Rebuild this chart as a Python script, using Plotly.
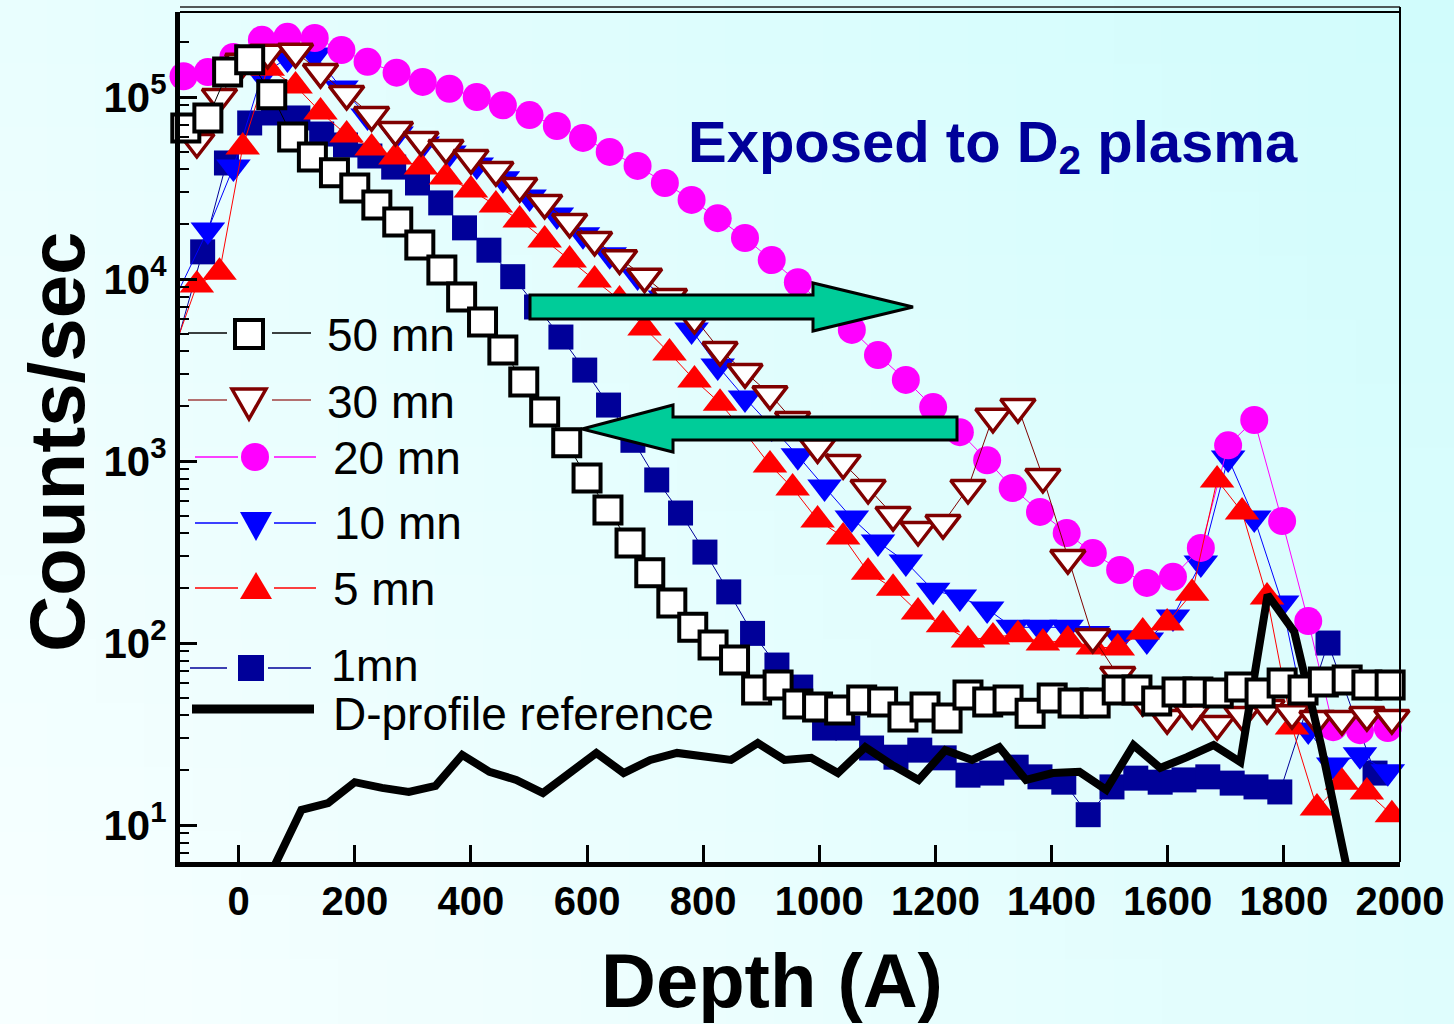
import plotly.graph_objects as go

# ---------------- data (depth in Angstrom, counts/sec) ----------------
depth_50 = [-91, -53, -19, 19, 57, 93, 127, 165, 200, 238, 274, 312, 350, 384, 420, 455, 491,
            527, 565, 600, 636, 674, 708, 746, 782, 817, 854, 892, 929, 963, 997, 1035, 1073,
            1109, 1144, 1182, 1220, 1256, 1290, 1325, 1363, 1401, 1437, 1475, 1513, 1547, 1581,
            1616, 1652, 1687, 1724, 1759, 1797, 1833, 1868, 1909, 1943, 1983]
counts_50 = [6.76e4, 7.67e4, 1.37e5, 1.60e5, 1.03e5, 6.03e4, 4.68e4, 3.83e4, 3.16e4, 2.55e4,
             2.06e4, 1.54e4, 1.12e4, 7.96e3, 5.81e3, 4.07e3, 2.72e3, 1.86e3, 1.26e3, 807, 538,
             355, 243, 166, 122, 97.5, 80.7, 55.2, 58.8, 46.2, 44.5, 42.8, 48.6, 47.4, 39.2,
             44.5, 38.7, 51.8, 47.4, 48.6, 41.2, 49.9, 46.8, 46.8, 55.2, 55.2, 48.0, 53.8, 53.8,
             53.1, 57.3, 53.1, 60.3, 55.2, 61.1, 62.7, 58.8, 58.8]

depth_30 = [-72, -33, 7, 50, 98, 141, 186, 229, 270, 314, 357, 400, 443, 484, 527, 570, 613,
            656, 699, 742, 785, 829, 872, 915, 954, 997, 1041, 1084, 1127, 1170, 1213, 1256,
            1299, 1342, 1385, 1428, 1471, 1514, 1557, 1599, 1642, 1685, 1728, 1771, 1814, 1857,
            1900, 1943, 1986]
counts_30 = [5.66e4, 1.0e5, 1.56e5, 1.75e5, 1.77e5, 1.37e5, 1.04e5, 7.96e4, 6.59e4, 5.81e4,
             5.25e4, 4.62e4, 3.97e4, 3.24e4, 2.62e4, 2.06e4, 1.64e4, 1.30e4, 1.03e4, 7.96e3,
             6.11e3, 4.07e3, 3.08e3, 2.33e3, 1.68e3, 1.19e3, 975, 711, 505, 418, 456, 711,
             1750, 1980, 817, 293, 108, 66.7, 48.6, 38.7, 41.2, 35.9, 40.2, 43.9, 41.2, 38.2,
             38.2, 40.2, 38.7]

depth_20 = [-95, -53, -9, 40, 84, 131, 177, 222, 272, 317, 363, 410, 455, 501, 548, 593, 639,
            687, 734, 780, 825, 872, 918, 963, 1009, 1056, 1101, 1149, 1196, 1242, 1289, 1333,
            1380, 1426, 1471, 1518, 1564, 1609, 1657, 1704, 1749, 1797, 1842, 1885, 1931, 1979]
counts_20 = [1.30e5, 1.37e5, 1.66e5, 2.06e5, 2.14e5, 2.11e5, 1.81e5, 1.56e5, 1.36e5, 1.21e5,
             1.11e5, 1.0e5, 9.0e4, 7.96e4, 6.93e4, 5.96e4, 4.99e4, 4.18e4, 3.37e4, 2.72e4,
             2.16e4, 1.68e4, 1.27e4, 9.6e3, 7.1e3, 5.25e3, 3.82e3, 2.79e3, 1.98e3, 1.44e3,
             1.01e3, 711, 525, 402, 312, 252, 214, 231, 333, 1220, 1680, 468, 132, 34.5, 33.2,
             34.1]

depth_10 = [-105, -53, -9, 40, 84, 131, 177, 222, 272, 317, 363, 410, 455, 501, 548, 593, 639,
            687, 734, 780, 825, 872, 918, 963, 1009, 1056, 1101, 1149, 1196, 1242, 1289, 1333,
            1380, 1426, 1471, 1518, 1564, 1609, 1657, 1704, 1749, 1797, 1842, 1885, 1931, 1979]
counts_10 = [8.4e3, 1.86e4, 4.12e4, 1.32e5, 1.64e5, 1.70e5, 1.12e5, 7.86e4, 6.26e4, 5.52e4,
             4.92e4, 4.23e4, 3.55e4, 2.82e4, 2.25e4, 1.75e4, 1.36e4, 1.04e4, 7.86e3, 5.25e3,
             3.33e3, 2.22e3, 1.54e3, 1.07e3, 720, 486, 359, 279, 195, 179, 154, 122, 122, 122,
             113, 107, 104, 139, 275, 1040, 486, 166, 33.3, 21.4, 24.3, 19.6]

depth_5 = [-150, -72, -33, 7, 50, 98, 141, 186, 229, 270, 314, 357, 400, 443, 484, 527, 570,
           613, 656, 699, 742, 785, 829, 872, 915, 954, 997, 1041, 1084, 1127, 1170, 1213, 1256,
           1299, 1342, 1385, 1428, 1471, 1514, 1557, 1599, 1642, 1685, 1728, 1771, 1814, 1857,
           1900, 1943, 1986]
counts_5 = [1.86e3, 9.27e3, 1.09e4, 5.31e4, 1.44e5, 1.15e5, 8.27e4, 6.18e4, 5.25e4, 4.68e4,
            4.12e4, 3.64e4, 3.08e4, 2.55e4, 2.11e4, 1.64e4, 1.27e4, 9.88e3, 7.67e3, 5.38e3,
            3.92e3, 2.79e3, 2.08e3, 1.43e3, 951, 711, 474, 383, 245, 200, 148, 126, 104, 108,
            111, 100, 104, 95, 94, 115, 129, 188, 787, 525, 179, 34.6, 12.4, 17.2, 15.2, 11.4]

depth_1 = [-153, -62, -21, 19, 60, 102, 143, 184, 226, 267, 308, 348, 389, 431, 472, 513, 555,
           596, 637, 679, 720, 761, 803, 844, 885, 927, 968, 1009, 1049, 1090, 1132, 1173, 1215,
           1256, 1297, 1339, 1380, 1421, 1463, 1504, 1545, 1587, 1628, 1669, 1711, 1752, 1793,
           1876, 1957]
counts_1 = [1.32e3, 1.41e4, 4.34e4, 7.2e4, 8.17e4, 7.67e4, 6.26e4, 5.45e4, 4.74e4, 4.12e4,
            3.37e4, 2.62e4, 1.91e4, 1.44e4, 1.03e4, 7.02e3, 4.80e3, 3.16e3, 2.03e3, 1.30e3, 787,
            518, 316, 191, 113, 75.7, 57.3, 34.1, 34.1, 26.5, 23.6, 25.8, 23.4, 18.8, 19.3, 20.8,
            18.4, 17.2, 11.4, 16.2, 18.1, 17.2, 17.7, 18.4, 17.0, 16.2, 15.2, 100, 19.3]

depth_ref = [62, 108, 154, 200, 247, 293, 339, 385, 432, 478, 524, 570, 616, 663, 709, 755, 801,
             848, 894, 940, 986, 1032, 1079, 1125, 1171, 1217, 1263, 1310, 1356, 1402, 1448,
             1494, 1541, 1587, 1633, 1679, 1725, 1772, 1818, 1864, 1910]
counts_ref = [6.0, 12.1, 13.2, 17.2, 16.0, 15.2, 16.4, 24.3, 19.6, 17.7, 15.0, 19.3, 24.9, 19.3,
              22.8, 24.9, 23.6, 22.8, 28.2, 22.8, 23.4, 19.3, 26.8, 21.4, 17.7, 25.8, 22.8, 26.8,
              17.7, 19.3, 19.6, 15.6, 27.5, 20.6, 23.6, 27.5, 22.2, 184, 115, 27.5, 5.5]

legend_labels = ["50 mn", "30 mn", "20 mn", "10 mn", "5 mn", "1mn", "D-profile reference"]
x_ticks = [0, 200, 400, 600, 800, 1000, 1200, 1400, 1600, 1800, 2000]
y_ticks = [10, 100, 1000, 10000, 100000]
y_ticktext = ["10<sup>1</sup>", "10<sup>2</sup>", "10<sup>3</sup>", "10<sup>4</sup>",
              "10<sup>5</sup>"]

# ---------------- layout geometry ----------------
W, H = 1454, 1024
ML, MR, MT, MB = 180, 54, 12, 162
PW = W - ML - MR
PH = H - MT - MB


def fx(px):
    return (px - ML) / PW


def fy(py):
    return (H - MB - py) / PH


FONT = "Liberation Sans, Arial, sans-serif"
DARKRED = "#800000"
DARKBLUE = "#000099"
TEAL = "#00cc99"

fig = go.Figure()

# 1 mn
fig.add_trace(go.Scatter(x=depth_1, y=counts_1, mode="lines+markers", name=legend_labels[5],
                         line=dict(color=DARKBLUE, width=1),
                         marker=dict(symbol="square", size=25, color=DARKBLUE),
                         cliponaxis=True, showlegend=False))
# 10 mn
fig.add_trace(go.Scatter(x=depth_10, y=counts_10, mode="lines+markers", name=legend_labels[3],
                         line=dict(color="#0000ff", width=1),
                         marker=dict(symbol="triangle-down", size=30, color="#0000ff"),
                         cliponaxis=False, showlegend=False))
# 20 mn
fig.add_trace(go.Scatter(x=depth_20, y=counts_20, mode="lines+markers", name=legend_labels[2],
                         line=dict(color="#ff00ff", width=1),
                         marker=dict(symbol="circle", size=28, color="#ff00ff"),
                         cliponaxis=False, showlegend=False))
# 5 mn
fig.add_trace(go.Scatter(x=depth_5, y=counts_5, mode="lines+markers", name=legend_labels[4],
                         line=dict(color="#ff0000", width=1),
                         marker=dict(symbol="triangle-up", size=30, color="#ff0000"),
                         cliponaxis=True, showlegend=False))
# 30 mn
fig.add_trace(go.Scatter(x=depth_30, y=counts_30, mode="lines+markers", name=legend_labels[1],
                         line=dict(color=DARKRED, width=1),
                         marker=dict(symbol="triangle-down", size=30, color="white",
                                     line=dict(color=DARKRED, width=3.5)),
                         cliponaxis=False, showlegend=False))
# D-profile reference
fig.add_trace(go.Scatter(x=depth_ref, y=counts_ref, mode="lines", name=legend_labels[6],
                         line=dict(color="black", width=8), showlegend=False))
# 50 mn
fig.add_trace(go.Scatter(x=depth_50, y=counts_50, mode="lines+markers", name=legend_labels[0],
                         line=dict(color="black", width=1),
                         marker=dict(symbol="square", size=27, color="white",
                                     line=dict(color="black", width=4)),
                         cliponaxis=False, showlegend=False))

shapes = []

# background gradient (light, left/bottom -> cyan, right/top)
NX, NY = 30, 16
c0 = (248, 255, 255)
c1 = (208, 252, 252)
for i in range(NX):
    for j in range(NY):
        x0p, x1p = W * i / NX, W * (i + 1) / NX
        y0p, y1p = H * j / NY, H * (j + 1) / NY
        u = (i + 0.5) / NX
        w = 1 - (j + 0.5) / NY
        t = max(0.0, min(1.0, 0.62 * u + 0.38 * w))
        col = tuple(round(c0[k] + (c1[k] - c0[k]) * t) for k in range(3))
        shapes.append(dict(type="rect", xref="paper", yref="paper", layer="below",
                           x0=fx(x0p) - 0.001, x1=fx(x1p) + 0.001,
                           y0=fy(y1p) - 0.001, y1=fy(y0p) + 0.001,
                           line=dict(width=0), fillcolor="rgb(%d,%d,%d)" % col))

# frame: top double line and right line
shapes.append(dict(type="line", xref="paper", yref="paper", x0=0, x1=1, y0=1, y1=1,
                   line=dict(color="black", width=2)))
shapes.append(dict(type="line", xref="paper", yref="paper", x0=0, x1=1, y0=fy(7), y1=fy(7),
                   line=dict(color="#222", width=1.5)))
shapes.append(dict(type="line", xref="paper", yref="paper", x0=1, x1=1, y0=0, y1=fy(7),
                   line=dict(color="black", width=2)))


def path(points):
    return "M" + " L".join("%.5f,%.5f" % (fx(a), fy(b)) for a, b in points) + " Z"


# teal block arrows
arrow_r = [(530, 295), (813, 295), (813, 283), (913, 307), (813, 331), (813, 319), (530, 319)]
arrow_l = [(957, 417), (673, 417), (673, 405), (582, 429), (673, 452), (673, 440), (957, 440)]
for pts in (arrow_r, arrow_l):
    shapes.append(dict(type="path", xref="paper", yref="paper", path=path(pts),
                       fillcolor=TEAL, line=dict(color="black", width=3)))


# ---- hand-placed legend (as in the original figure) ----
def hline(x0, x1, y, color, width=1.5):
    shapes.append(dict(type="line", xref="paper", yref="paper", x0=fx(x0), x1=fx(x1),
                       y0=fy(y), y1=fy(y), line=dict(color=color, width=width)))


# 50 mn
hline(188, 227, 333, "black"); hline(272, 311, 333, "black")
shapes.append(dict(type="rect", xref="paper", yref="paper", x0=fx(235), x1=fx(263),
                   y0=fy(348), y1=fy(320), fillcolor="white", line=dict(color="black", width=4)))
# 30 mn
hline(188, 227, 400, "#a04040"); hline(272, 311, 400, "#a04040")
shapes.append(dict(type="path", xref="paper", yref="paper",
                   path=path([(232, 389), (266, 389), (249, 419)]),
                   fillcolor="white", line=dict(color=DARKRED, width=3.5)))
# 20 mn
hline(195, 238, 457, "#ff00ff"); hline(274, 316, 457, "#ff00ff")
shapes.append(dict(type="circle", xref="paper", yref="paper", x0=fx(241), x1=fx(269),
                   y0=fy(471), y1=fy(443), fillcolor="#ff00ff", line=dict(width=0)))
# 10 mn
hline(195, 238, 523, "#0000ff"); hline(274, 316, 523, "#0000ff")
shapes.append(dict(type="path", xref="paper", yref="paper",
                   path=path([(240, 512), (272, 512), (256, 541)]),
                   fillcolor="#0000ff", line=dict(width=0)))
# 5 mn
hline(195, 238, 588, "#ff0000"); hline(274, 316, 588, "#ff0000")
shapes.append(dict(type="path", xref="paper", yref="paper",
                   path=path([(240, 599), (272, 599), (256, 572)]),
                   fillcolor="#ff0000", line=dict(width=0)))
# 1 mn
hline(190, 227, 668, DARKBLUE); hline(268, 311, 668, DARKBLUE)
shapes.append(dict(type="rect", xref="paper", yref="paper", x0=fx(238), x1=fx(264),
                   y0=fy(681), y1=fy(655), fillcolor=DARKBLUE, line=dict(width=0)))
# D-profile
hline(192, 314, 709, "black", width=9)

annotations = []
leg_pos = [(325, 335), (325, 402), (331, 458), (332, 523), (331, 589), (329, 665), (331, 714)]
leg_size = [46, 46, 46, 46, 46, 45, 46]
for lab, (lx, ly), fs in zip(legend_labels, leg_pos, leg_size):
    annotations.append(dict(text=lab, x=fx(lx), y=fy(ly), xref="paper", yref="paper",
                            xanchor="left", yanchor="middle", showarrow=False,
                            font=dict(family=FONT, size=fs, color="black")))

annotations.append(dict(text="Exposed to D<sub>2</sub> plasma", x=fx(686), y=fy(146),
                        xref="paper", yref="paper", xanchor="left", yanchor="middle",
                        showarrow=False,
                        font=dict(family=FONT, size=58, color=DARKBLUE, weight="bold")))
annotations.append(dict(text="Counts/sec", x=fx(57), y=fy(442), xref="paper", yref="paper",
                        textangle=-90, xanchor="center", yanchor="middle", showarrow=False,
                        font=dict(family=FONT, size=78, color="black", weight="bold")))
annotations.append(dict(text="Depth (A)", x=fx(772), y=fy(980), xref="paper", yref="paper",
                        xanchor="center", yanchor="middle", showarrow=False,
                        font=dict(family=FONT, size=76, color="black", weight="bold")))

fig.update_layout(
    width=W, height=H,
    margin=dict(l=ML, r=MR, t=MT, b=MB, autoexpand=False),
    paper_bgcolor="rgb(232,254,254)",
    plot_bgcolor="rgba(0,0,0,0)",
    showlegend=False,
    shapes=shapes,
    annotations=annotations,
    xaxis=dict(range=[-101, 2000], tickvals=x_ticks, ticks="inside", ticklen=17, tickwidth=3,
               tickcolor="black", showline=True, linewidth=5, linecolor="black",
               showgrid=False, zeroline=False, ticklabelstandoff=0,
               tickfont=dict(family=FONT, size=40, color="black", weight="bold")),
    yaxis=dict(type="log", range=[0.797, 5.467], tickvals=y_ticks, ticktext=y_ticktext,
               ticks="inside", ticklen=17, tickwidth=3, tickcolor="black",
               minor=dict(ticks="inside", ticklen=9, tickwidth=2, tickcolor="black", dtick="D1"),
               showline=True, linewidth=5, linecolor="black", showgrid=False, zeroline=False,
               ticklabelstandoff=0,
               tickfont=dict(family=FONT, size=42, color="black", weight="bold")),
)

fig.write_html("out.html")
